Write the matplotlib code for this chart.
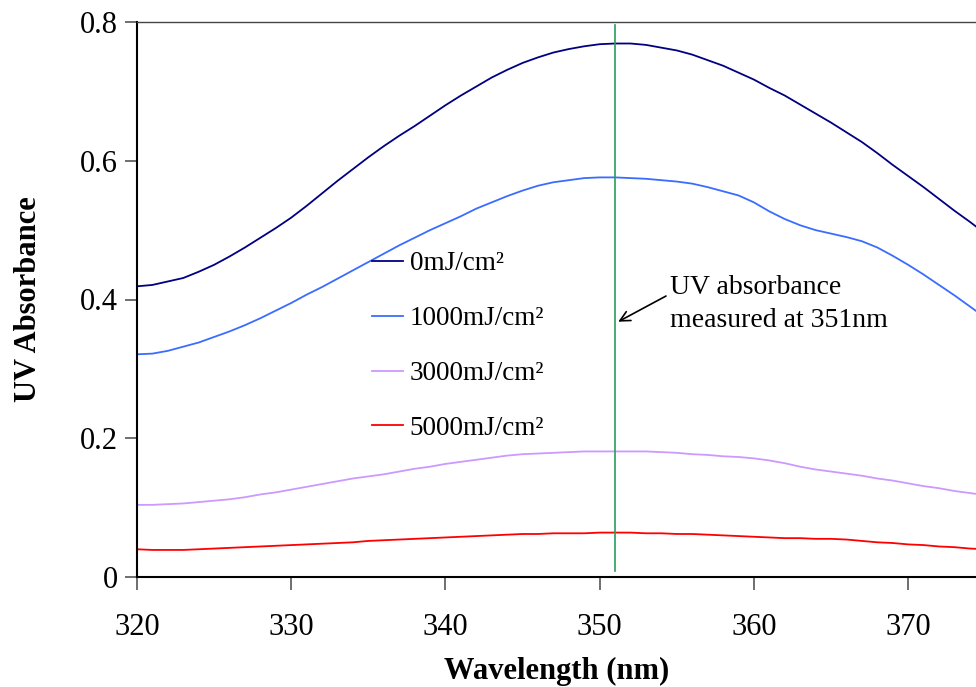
import matplotlib
matplotlib.use("Agg")
import matplotlib.pyplot as plt
import numpy as np

wavelength = list(range(320, 376))
labels = ["0mJ/cm²", "1000mJ/cm²", "3000mJ/cm²", "5000mJ/cm²"]
colors = ["#000080", "#3a6cff", "#cc99ff", "#ff0000"]

abs_0 = [.419, .421, .426, .431, .440, .450, .462, .475, .489, .503, .518, .535, .553, .571,
         .588, .605, .621, .636, .650, .665, .680, .694, .707, .720, .731, .741, .749, .756,
         .761, .765, .768, .769, .769, .767, .763, .759, .753, .745, .737, .727, .717, .705,
         .694, .681, .668, .655, .641, .627, .611, .594, .578, .562, .545, .528, .512, .495]
abs_1000 = [.321, .322, .326, .332, .338, .346, .354, .363, .373, .384, .395, .407, .418, .430,
            .442, .454, .466, .478, .489, .500, .510, .520, .531, .540, .549, .557, .564, .569,
            .572, .575, .576, .576, .575, .574, .572, .570, .567, .562, .556, .550, .540, .527,
            .516, .507, .500, .495, .490, .484, .475, .463, .450, .436, .421, .406, .390, .374]
abs_3000 = [.104, .104, .105, .106, .108, .110, .112, .115, .119, .122, .126, .130, .134, .138,
            .142, .145, .148, .152, .156, .159, .163, .166, .169, .172, .175, .177, .178, .179,
            .180, .181, .181, .181, .181, .181, .180, .179, .177, .176, .174, .173, .171, .168,
            .164, .159, .155, .152, .149, .146, .142, .139, .135, .131, .128, .124, .121, .118]
abs_5000 = [.040, .039, .039, .039, .040, .041, .042, .043, .044, .045, .046, .047, .048, .049,
            .050, .052, .053, .054, .055, .056, .057, .058, .059, .060, .061, .062, .062, .063,
            .063, .063, .064, .064, .064, .063, .063, .062, .062, .061, .060, .059, .058, .057,
            .056, .056, .055, .055, .054, .052, .050, .049, .047, .046, .044, .043, .041, .040]
series = [abs_0, abs_1000, abs_3000, abs_5000]

marker_nm = 351
xticks = [320, 330, 340, 350, 360, 370]
yticks = [0, 0.2, 0.4, 0.6, 0.8]
ytick_labels = ["0", "0.2", "0.4", "0.6", "0.8"]

plt.rcParams['font.family'] = ['Liberation Serif', 'DejaVu Serif']

fig = plt.figure(figsize=(9.76, 6.87), dpi=100)
ax = fig.add_axes([137/976, 1-577/687, 1-137/976, (577-22)/687])

for ys, lab, c in zip(series, labels, colors):
    ax.plot(wavelength, ys, color=c, lw=1.3, label=lab)

ax.plot([marker_nm, marker_nm], [0.008, 0.795], color="#2a9d5c", lw=1.2)

ax.text(354.55, 0.3935, "UV absorbance\nmeasured at 351nm", fontsize=20,
        va="center", ha="left", linespacing=1.4)
ax.annotate("", xy=(351.2, 0.368), xytext=(354.3, 0.405),
            arrowprops=dict(arrowstyle="->", color="black", lw=1.2,
                            shrinkA=0, shrinkB=0, mutation_scale=18))

ax.set_xlim(320, 374.4)
ax.set_ylim(0, 0.8)
ax.set_xticks(xticks)
ax.set_xticklabels([str(t) for t in xticks])
ax.set_yticks(yticks)
ax.set_yticklabels(ytick_labels)
ax.tick_params(axis='both', direction='out', length=9, width=1.2, color='#555555',
               labelsize=22, pad=5)
ax.tick_params(axis='x', pad=17)

ax.spines['right'].set_visible(False)
ax.spines['left'].set_linewidth(1.5)
ax.spines['bottom'].set_linewidth(1.5)
ax.spines['top'].set_linewidth(1.0)
ax.spines['top'].set_color('#444444')

ax.set_xlabel("Wavelength (nm)", fontsize=22, fontweight='bold', labelpad=11)
ax.set_ylabel("UV Absorbance", fontsize=22, fontweight='bold', labelpad=26)

leg = ax.legend(loc='center left', bbox_to_anchor=(0.28, 0.416), frameon=False,
                fontsize=19.5, handlelength=1.15, handletextpad=0.25, labelspacing=1.1,
                borderpad=0, borderaxespad=0)

fig.savefig("out.png", dpi=100)
